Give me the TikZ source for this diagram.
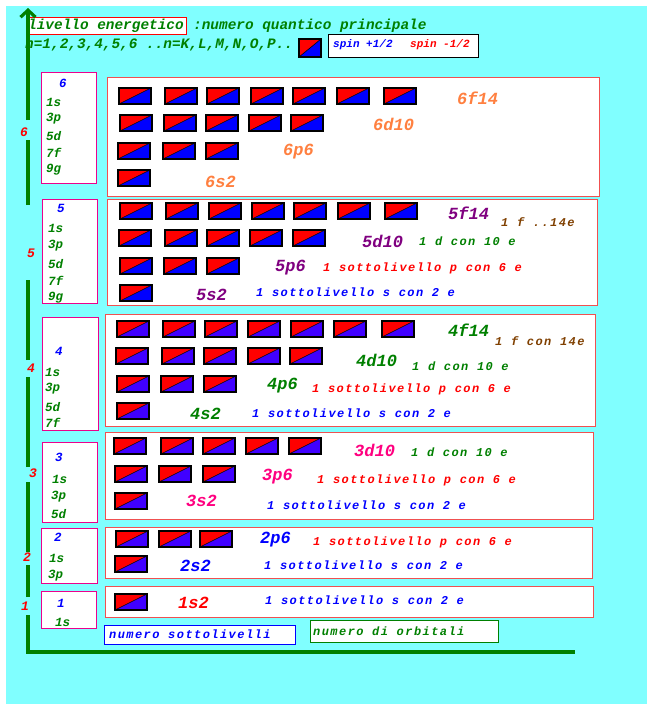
\documentclass[tikz,border=0pt]{standalone}
\usepackage{fontspec}
\setmainfont{Liberation Mono}
\newfontfamily\notefont{Liberation Mono}[LetterSpace=12]
\usetikzlibrary{arrows.meta}
\definecolor{bgcyan}{RGB}{128,255,255}
\definecolor{axgreen}{RGB}{0,128,0}
\definecolor{shellred}{RGB}{240,80,80}
\definecolor{orbviolet}{RGB}{64,0,255}
\definecolor{orange6}{RGB}{255,128,64}
\definecolor{purple5}{RGB}{128,0,128}
\definecolor{pink3}{RGB}{255,0,128}
\definecolor{brownf}{RGB}{128,64,0}
\tikzset{orb/.style={draw=black,line width=1.8pt,minimum width=32pt,minimum height=16pt,inner sep=0pt,
  path picture={
    \fill[red] (path picture bounding box.north west) -- (path picture bounding box.north east)
      -- (path picture bounding box.south west) -- cycle;
    \fill[#1] (path picture bounding box.north east) -- (path picture bounding box.south east)
      -- (path picture bounding box.south west) -- cycle;
    \draw[line width=0.6pt] (path picture bounding box.south west) -- (path picture bounding box.north east);}},
  orb/.default=blue}

\begin{document}
\begin{tikzpicture}[x=1pt,y=-1pt,>=Stealth]
\tikzstyle{hd}=[anchor=west,inner sep=0pt,text=axgreen,font=\fontsize{14.4}{16}\selectfont\bfseries\itshape]
\tikzstyle{lab}=[anchor=west,inner sep=0pt,font=\fontsize{17}{19}\selectfont\bfseries\itshape]
\tikzstyle{note}=[anchor=west,inner sep=0pt,font=\notefont\fontsize{12}{14}\selectfont\bfseries\itshape]
\tikzstyle{sub}=[anchor=west,inner sep=0pt,text=axgreen,font=\fontsize{12.5}{14}\selectfont\bfseries\itshape]
\tikzstyle{lv}=[sub,text=blue]
\tikzstyle{lvbox}=[draw=magenta,line width=1.2pt,fill=white,anchor=north west,inner sep=0pt]
\tikzstyle{shell}=[draw=shellred,line width=1.4pt,fill=white,anchor=north west,inner sep=0pt]
\tikzstyle{axis}=[draw=axgreen,line width=3.2pt]
\tikzstyle{axnum}=[text=red,font=\fontsize{13}{15}\selectfont\bfseries\itshape,inner sep=0pt]
\useasboundingbox (0,0) rectangle (647,704);
\fill[bgcyan] (6,6) rectangle (647,704);

% header
\node[hd,draw=red,fill=white,inner xsep=2pt,minimum height=17pt] (title) at (26,25.5) {livello energetico};
\node[hd] (quant) at (193,26) {:numero quantico principale};
\node[hd] (nlist) at (25,45) {n=1,2,3,4,5,6 ..n=K,L,M,N,O,P..};
\node[orb,minimum width=22pt,minimum height=18pt] (spin) at (310,48) {};
\node[draw=black,line width=1.2pt,fill=white,anchor=north west,minimum width=150pt,minimum height=23pt] (spinbox) at (328,34) {};
\node[note,text=blue,font=\fontsize{11}{13}\selectfont\bfseries\itshape] (up) at (333,45) {spin +1/2};
\node[note,text=red,font=\fontsize{11}{13}\selectfont\bfseries\itshape] (down) at (410,45) {spin -1/2};

% axes
\foreach \a/\b in {652/615,597/565,552/482,467/377,360/280,205/140}
  \draw[axis] (28,\a) -- (28,\b);
\draw[axis,-{Straight Barb[length=7pt,width=15pt]}] (28,120) -- (28,8);
\draw[axis] (26.4,652) -- (575,652);
\node[axnum] (ax6) at (24,132) {6};
\node[axnum] (ax5) at (31,253) {5};
\node[axnum] (ax4) at (31,368) {4};
\node[axnum] (ax3) at (33,473) {3};
\node[axnum] (ax2) at (27,557) {2};
\node[axnum] (ax1) at (25,606) {1};

% boxes
\node[lvbox,minimum width=55pt,minimum height=111pt] (lv6) at (41,72) {};
\node[lvbox,minimum width=55pt,minimum height=104pt] (lv5) at (42,199) {};
\node[lvbox,minimum width=56pt,minimum height=113pt] (lv4) at (42,317) {};
\node[lvbox,minimum width=55pt,minimum height=80pt] (lv3) at (42,442) {};
\node[lvbox,minimum width=56pt,minimum height=55pt] (lv2) at (41,528) {};
\node[lvbox,minimum width=55pt,minimum height=37pt] (lv1) at (41,591) {};
\node[shell,minimum width=492pt,minimum height=119pt] (sh6) at (107,77) {};
\node[shell,minimum width=490pt,minimum height=106pt] (sh5) at (107,199) {};
\node[shell,minimum width=490pt,minimum height=112pt] (sh4) at (105,314) {};
\node[shell,minimum width=488pt,minimum height=87pt] (sh3) at (105,432) {};
\node[shell,minimum width=487pt,minimum height=51pt] (sh2) at (105,527) {};
\node[shell,minimum width=488pt,minimum height=31pt] (sh1) at (105,586) {};

% sublevels per level
\foreach \n/\x/\y in {6/59/83,5/57/208,4/55/351,3/55/457,2/54/537,1/57/603}
  \node[lv] (n\n) at (\x,\y) {\n};
\foreach \t/\x/\y [count=\i] in {1s/46/102,3p/46/119,5d/46/136,7f/46/153,9g/46/170,
  1s/48/228,3p/48/246,5d/48/264,7f/48/281,9g/48/298,
  1s/45/372,3p/45/389,5d/45/407,7f/45/423,
  1s/52/479,3p/51/497,5d/51/514,
  1s/49/558,3p/48/576,
  1s/55/622}
  \node[sub] (s\i) at (\x,\y) {\t};

% orbitals
\foreach \n/\s/\y/\c/\xl in {
  6/f/87/blue/{118,164,206,250,292,336,383},
  6/d/114/blue/{119,163,205,248,290},
  6/p/142/blue/{117,162,205},
  6/s/169/blue/{117},
  5/f/202/blue/{119,165,208,251,293,337,384},
  5/d/229/blue/{118,164,206,249,292},
  5/p/257/blue/{119,163,206},
  5/s/284/blue/{119},
  4/f/320/orbviolet/{116,162,204,247,290,333,381},
  4/d/347/orbviolet/{115,161,203,247,289},
  4/p/375/orbviolet/{116,160,203},
  4/s/402/orbviolet/{116},
  3/d/437/orbviolet/{113,160,202,245,288},
  3/p/465/orbviolet/{114,158,202},
  3/s/492/orbviolet/{114},
  2/p/530/orbviolet/{115,158,199},
  2/s/555/orbviolet/{114},
  1/s/593/orbviolet/{114}}
  {\foreach \x [count=\i] in \xl
    \node[orb=\c] (o\n\s\i) at (\x+17,\y+9) {};}

% shell 6
\node[lab,text=orange6] (l6f) at (457,98) {6f14};
\node[lab,text=orange6] (l6d) at (373,124) {6d10};
\node[lab,text=orange6] (l6p) at (283,152) {6p6};
\node[lab,text=orange6] (l6s) at (205,182) {6s2};
% shell 5
\node[lab,text=purple5] (l5f) at (448,213) {5f14};
\node[note,text=brownf] (t5f) at (501,222) {1 f ..14e};
\node[lab,text=purple5] (l5d) at (362,241) {5d10};
\node[note,text=axgreen] (t5d) at (419,241) {1 d con 10 e};
\node[lab,text=purple5] (l5p) at (275,268) {5p6};
\node[note,text=red] (t5p) at (323,268) {1 sottolivello p con 6 e};
\node[lab,text=purple5] (l5s) at (196,295) {5s2};
\node[note,text=blue] (t5s) at (256,292) {1 sottolivello s con 2 e};
% shell 4
\node[lab,text=axgreen] (l4f) at (448,330) {4f14};
\node[note,text=brownf] (t4f) at (495,341) {1 f con 14e};
\node[lab,text=axgreen] (l4d) at (356,360) {4d10};
\node[note,text=axgreen] (t4d) at (412,366) {1 d con 10 e};
\node[lab,text=axgreen] (l4p) at (267,386) {4p6};
\node[note,text=red] (t4p) at (312,389) {1 sottolivello p con 6 e};
\node[lab,text=axgreen] (l4s) at (190,414) {4s2};
\node[note,text=blue] (t4s) at (252,413) {1 sottolivello s con 2 e};
% shell 3
\node[lab,text=pink3] (l3d) at (354,450) {3d10};
\node[note,text=axgreen] (t3d) at (411,452) {1 d con 10 e};
\node[lab,text=pink3] (l3p) at (262,477) {3p6};
\node[note,text=red] (t3p) at (317,480) {1 sottolivello p con 6 e};
\node[lab,text=pink3] (l3s) at (186,501) {3s2};
\node[note,text=blue] (t3s) at (267,505) {1 sottolivello s con 2 e};
% shell 2
\node[lab,text=blue] (l2p) at (260,540) {2p6};
\node[note,text=red] (t2p) at (313,542) {1 sottolivello p con 6 e};
\node[lab,text=blue] (l2s) at (180,566) {2s2};
\node[note,text=blue] (t2s) at (264,565) {1 sottolivello s con 2 e};
% shell 1
\node[lab,text=red] (l1s) at (178,603) {1s2};
\node[note,text=blue] (t1s) at (265,600) {1 sottolivello s con 2 e};

% legend
\node[draw=blue,line width=1.2pt,fill=white,anchor=north west,minimum width=191pt,minimum height=19pt] (kbox1) at (104,625) {};
\node[note,text=blue] (key1) at (109,634) {numero sottolivelli};
\node[draw=axgreen,line width=1.2pt,fill=white,anchor=north west,minimum width=188pt,minimum height=22pt] (kbox2) at (310,620) {};
\node[note,text=axgreen] (key2) at (313,631) {numero di orbitali};
\end{tikzpicture}
\end{document}
